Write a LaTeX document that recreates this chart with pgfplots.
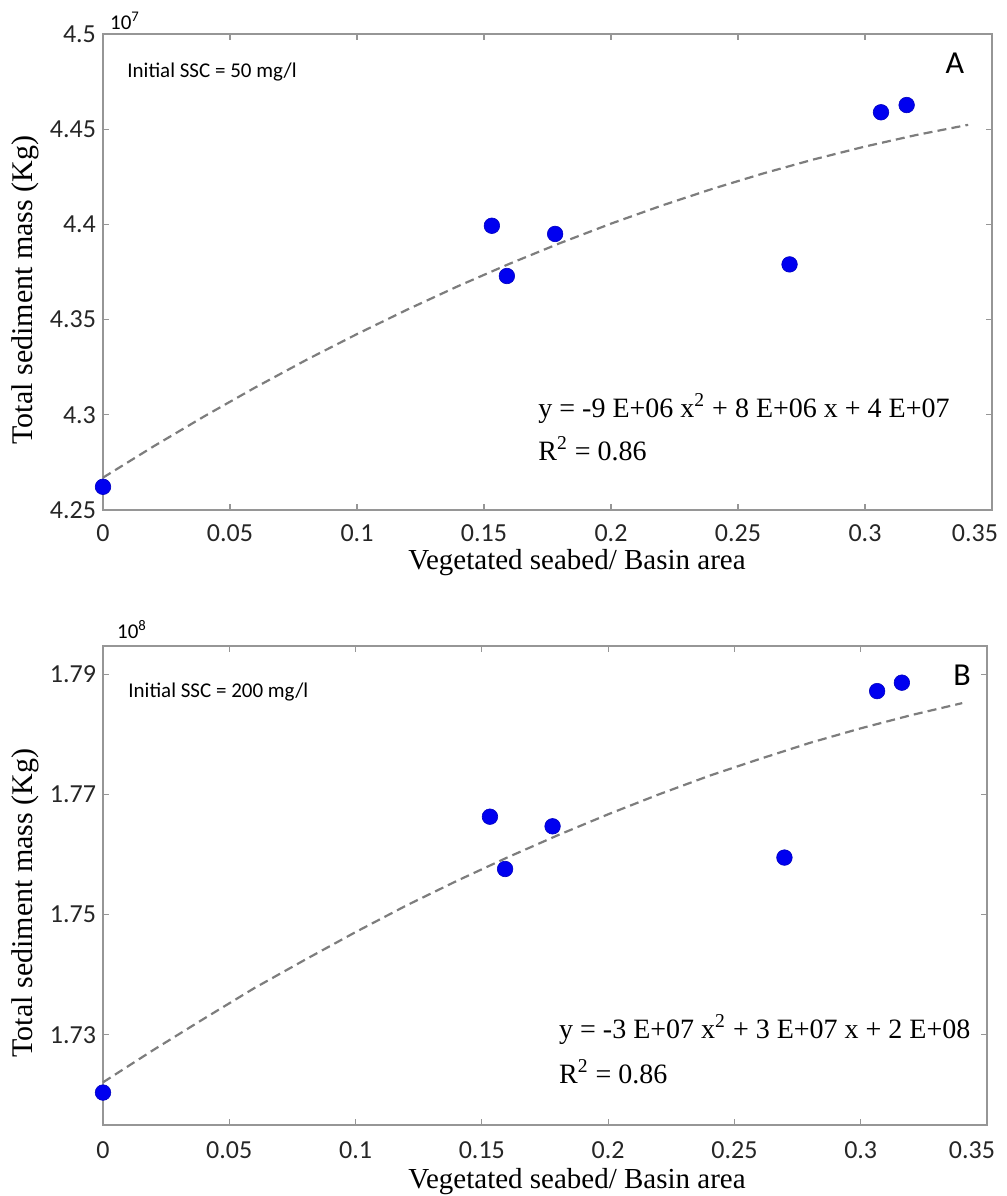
\documentclass[border=0pt]{standalone}
\usepackage{fontspec}
\setmainfont{Liberation Serif}
\newfontfamily\calfont{Carlito}
\usepackage{pgfplots}
\pgfplotsset{compat=1.18}

\definecolor{axisgray}{RGB}{150,150,150}
\definecolor{fitgray}{RGB}{125,125,125}
\definecolor{dotblue}{RGB}{0,0,240}

\pgfplotsset{
  panel/.style={
    scale only axis,
    anchor=north west,
    xmin=0, xmax=0.35,
    clip=false,
    axis line style={axisgray, line width=0.9pt},
    tick style={axisgray, line width=0.6pt},
    major tick length=3pt,
    tick align=inside,
    xtick={0,0.05,0.1,0.15,0.2,0.25,0.3},
    xticklabels={0,0.05,0.1,0.15,0.2,0.25,0.3},
    extra x ticks={0.35},
    extra x tick labels={0.35},
    tick label style={font=\calfont\fontsize{13}{13}\selectfont, text=black!85},
    scaled ticks=false,
  },
  samples/.style={
    only marks, mark=*, mark size=3.9pt,
    mark options={fill=dotblue, draw=dotblue!80!black, line width=0.3pt},
  },
  trend/.style={
    no marks, fitgray, line width=1.1pt, dash pattern=on 4.5pt off 2.6pt,
  },
}

\begin{document}
\begin{tikzpicture}
\useasboundingbox (0,0) rectangle (503.5pt,-598pt);

% ---------------- Panel A: initial SSC = 50 mg/l ----------------
\begin{axis}[panel,
  at={(51.5pt,-17pt)}, width=444.5pt, height=238pt,
  ymin=4.25, ymax=4.5,
  ytick={4.25,4.3,4.35,4.4,4.45,4.5},
  yticklabels={4.25,4.3,4.35,4.4,4.45,4.5},
  xticklabel style={yshift=-4pt},
  extra x tick style={xticklabel style={xshift=-8.5pt}},
]
\addplot[trend] coordinates {
  (0,4.2670) (0.02,4.2835) (0.04,4.2993) (0.06,4.3144) (0.08,4.3288)
  (0.10,4.3424) (0.12,4.3554) (0.14,4.3677) (0.16,4.3793) (0.18,4.3902)
  (0.20,4.4004) (0.22,4.4099) (0.24,4.4187) (0.26,4.4268) (0.28,4.4342)
  (0.30,4.4409) (0.32,4.4469) (0.3406,4.4523)
};
\addplot[samples] coordinates {
  (0,4.2622) (0.1531,4.3993) (0.1590,4.3729) (0.1780,4.3950)
  (0.2703,4.3790) (0.3063,4.4589) (0.3164,4.4627)
};
\end{axis}

% ---------------- Panel B: initial SSC = 200 mg/l ----------------
\begin{axis}[panel,
  at={(51.5pt,-323pt)}, width=442pt, height=239.5pt,
  ymin=1.715, ymax=1.7947,
  ytick={1.73,1.75,1.77,1.79},
  yticklabels={1.73,1.75,1.77,1.79},
  xticklabel style={yshift=-5pt},
  extra x tick style={xticklabel style={xshift=-7.5pt}},
]
\addplot[trend] coordinates {
  (0,1.7221) (0.02,1.7275) (0.04,1.7327) (0.06,1.7378) (0.08,1.7425)
  (0.10,1.7471) (0.12,1.7515) (0.14,1.7556) (0.16,1.7595) (0.18,1.7632)
  (0.20,1.7667) (0.22,1.7700) (0.24,1.7731) (0.26,1.7759) (0.28,1.7786)
  (0.30,1.7810) (0.32,1.7832) (0.3402,1.7852)
};
\addplot[samples] coordinates {
  (0,1.7204) (0.1532,1.7663) (0.1592,1.7576) (0.1780,1.7647)
  (0.2698,1.7595) (0.3065,1.7872) (0.3163,1.7886)
};
\end{axis}

% ---------------- labels and annotations ----------------
\begin{scope}[font=\fontsize{15}{15}\selectfont]
  \node[rotate=90] at (12.5pt,-145pt) {Total sediment mass (Kg)};
  \node[rotate=90] at (12.5pt,-451.5pt) {Total sediment mass (Kg)};
\end{scope}
\begin{scope}[font=\fontsize{14.5}{14.5}\selectfont, inner sep=0pt]
  \node[anchor=base] at (288.5pt,-284.5pt) {Vegetated seabed/ Basin area};
  \node[anchor=base] at (288.5pt,-594pt) {Vegetated seabed/ Basin area};
\end{scope}

\begin{scope}[font=\fontsize{14}{14}\selectfont, inner sep=0pt]
  \node[anchor=base west] at (269pt,-208.5pt) {y = -9 E+06 x\textsuperscript{2} + 8 E+06 x + 4 E+07};
  \node[anchor=base west] at (269pt,-230pt) {R\textsuperscript{2} = 0.86};
  \node[anchor=base west] at (279.4pt,-519pt) {y = -3 E+07 x\textsuperscript{2} + 3 E+07 x + 2 E+08};
  \node[anchor=base west] at (279.4pt,-541.5pt) {R\textsuperscript{2} = 0.86};
\end{scope}

\begin{scope}[font=\calfont\fontsize{10.5}{10.5}\selectfont, inner sep=0pt]
  \node[anchor=west] at (63.5pt,-36pt) {Initial SSC = 50 mg/l};
  \node[anchor=west] at (64pt,-346pt) {Initial SSC = 200 mg/l};
  \node at (62.5pt,-10.5pt) {10\textsuperscript{7}};
  \node at (66pt,-315pt) {10\textsuperscript{8}};
\end{scope}

\node[font=\calfont\fontsize{16}{16}\selectfont] at (477.5pt,-31.5pt) {A};
\node[font=\calfont\fontsize{16}{16}\selectfont] at (481pt,-337.5pt) {B};
\end{tikzpicture}
\end{document}
